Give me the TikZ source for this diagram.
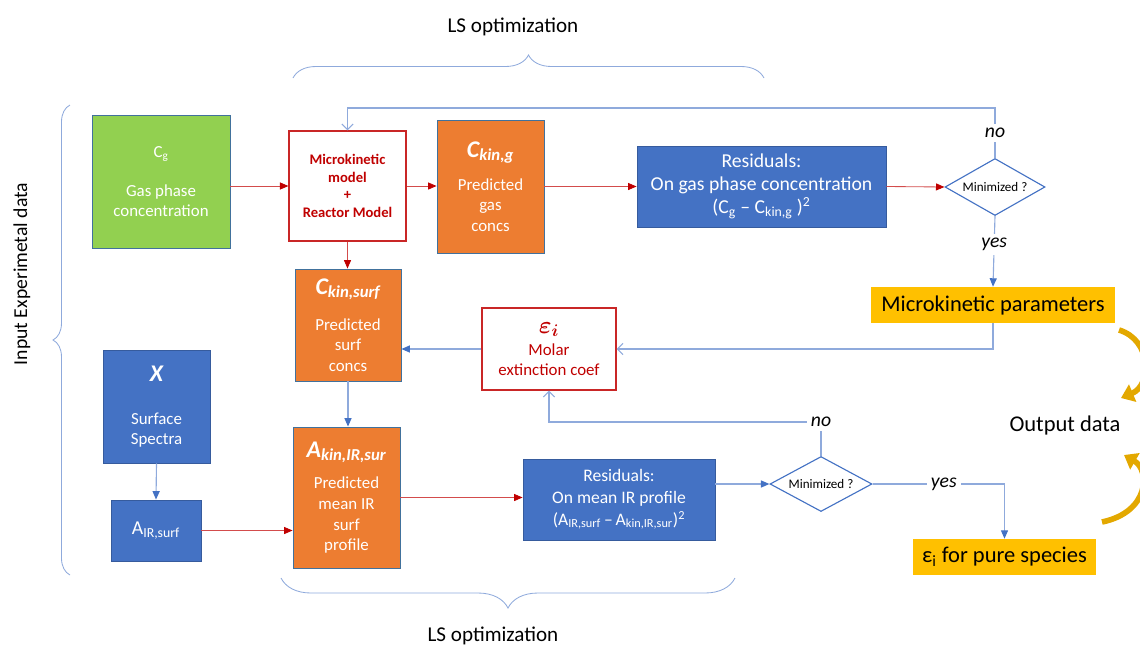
\documentclass[tikz,border=0pt]{standalone}
\usepackage{fontspec}
\setmainfont{Carlito}
\usetikzlibrary{arrows.meta,shapes.geometric,decorations.pathreplacing}
\definecolor{ogreen}{HTML}{92D050}
\definecolor{oorange}{HTML}{ED7D31}
\definecolor{oblue}{HTML}{4472C4}
\definecolor{ogold}{HTML}{FFC000}
\definecolor{ored}{HTML}{C00000}
\definecolor{lblue}{HTML}{8FAADC}
\definecolor{edge}{HTML}{41719C}
\definecolor{arcgold}{HTML}{E3A800}
\newcommand\boxhead{\fontsize{17}{20}\selectfont\bfseries\itshape}

\begin{document}
\begin{tikzpicture}[x=0.025cm,y=-0.025cm,
  every node/.style={font=\fontsize{12}{14.6}\selectfont},
  box/.style={draw=edge, line width=0.6pt, align=center, inner sep=2pt, text=white},
  greenbox/.style={box, fill=ogreen},
  orangebox/.style={box, fill=oorange},
  bluebox/.style={box, fill=oblue, draw=oblue!80!black},
  redbox/.style={draw=ored!85, line width=0.8pt, fill=white, align=center, text=ored},
  goldbox/.style={fill=ogold, inner sep=2pt, font=\fontsize{16}{19}\selectfont},
  decision/.style={diamond, draw=oblue, line width=0.8pt, fill=white, inner sep=0pt,
    aspect=1.8, font=\fontsize{9.3}{11}\selectfont},
  redline/.style={draw=ored!70, line width=0.6pt, -{Triangle[length=6pt,width=5pt,color=ored]}},
  blueline/.style={draw=lblue, line width=0.8pt, -{Triangle[length=6pt,width=5pt,color=oblue]}},
  loopline/.style={draw=lblue, line width=0.8pt, -{Straight Barb[length=4pt,width=8pt]}},
  answer/.style={fill=white, inner sep=3pt, font=\fontsize{14}{17}\selectfont\itshape},
  title/.style={font=\fontsize{15}{18}\selectfont},
  lsbrace/.style={draw=lblue, line width=0.6pt, decorate, decoration={brace, amplitude=#1}},
  goldarc/.style={draw=arcgold, line width=4pt, -{Triangle[length=9pt,width=13pt]}}]
\useasboundingbox (0,0) rectangle (1140,646);

% ==================== TOP ROW: GAS PHASE ====================
\node[greenbox, minimum width=3.45cm, minimum height=3.325cm] (gas) at (161,181.5)
  {C\textsubscript{g}\\[13pt]Gas phase\\concentration};
\node[redbox, minimum width=2.925cm, minimum height=2.75cm,
  font=\fontsize{10.4}{12.6}\selectfont\bfseries] (mkm) at (347.5,186)
  {Microkinetic\\model\\+\\Reactor Model};
\node[orangebox, minimum width=2.675cm, minimum height=3.325cm] (ckg) at (490.5,186.5)
  {{\boxhead C\textsubscript{kin,g}}\\[9pt]Predicted\\gas\\concs};
\node[bluebox, minimum width=6.225cm, minimum height=2.025cm,
  font=\fontsize{14}{16.5}\selectfont] (resg) at (761.5,186.5)
  {Residuals:\\On gas phase concentration\\(C\textsubscript{g} -- C\textsubscript{kin,g} )\textsuperscript{2}};
\node[decision, minimum width=2.5cm, minimum height=1.425cm] (ming) at (995,187) {Minimized ?};
\node[goldbox, minimum width=6.1cm, minimum height=0.9cm] (mkp) at (993,305) {Microkinetic parameters};

% ==================== MIDDLE: SURFACE ====================
\node[orangebox, minimum width=2.65cm, minimum height=2.8cm] (cks) at (348,325)
  {{\boxhead C\textsubscript{kin,surf}}\\[11pt]Predicted\\surf\\concs};
\node[redbox, minimum width=3.35cm, minimum height=2.05cm] (eps) at (549,349)
  {{\fontsize{17}{20}\selectfont\boldmath$\varepsilon_{i}$}\\[1pt]Molar\\extinction coef};

% ==================== BOTTOM ROW: IR PROFILE ====================
\node[bluebox, minimum width=2.675cm, minimum height=2.825cm] (spec) at (156.5,406.5)
  {{\boxhead X}\\[16pt]Surface\\Spectra};
\node[bluebox, minimum width=2.25cm, minimum height=1.525cm,
  font=\fontsize{14}{16.5}\selectfont] (air) at (156,530.5) {A\textsubscript{IR,surf}};
\node[orangebox, minimum width=2.675cm, minimum height=3.525cm] (aks) at (346.5,497.5)
  {{\boxhead A\textsubscript{kin,IR,sur}}\\[8pt]Predicted\\mean IR\\surf\\profile};
\node[bluebox, minimum width=4.8cm, minimum height=2.025cm,
  font=\fontsize{12.5}{15.5}\selectfont] (resir) at (619,499.5)
  {Residuals:\\On mean IR profile\\(A\textsubscript{IR,surf}\,--\,A\textsubscript{kin,IR,sur})\textsuperscript{2}};
\node[decision, minimum width=2.55cm, minimum height=1.375cm] (minir) at (821,484) {Minimized ?};
\node[goldbox, minimum width=4.575cm, minimum height=0.9cm] (epsout) at (1004.5,557)
  {ε\textsubscript{i} for pure species};

% ==================== CONNECTORS ====================
\coordinate (looptop) at (0,108);
\coordinate (nolevel) at (0,422);
\draw[redline] (gas.east |- mkm.west) -- (mkm.west);
\draw[redline] (mkm.east) -- (mkm.east -| ckg.west);
\draw[redline] (ckg.east) -- (ckg.east -| resg.west);
\draw[redline] (resg.east) -- (ming.west);
\draw[loopline] (ming.north) -- node[answer] (no1) {no} (ming.north |- looptop) -| (mkm.north);
\draw[blueline] (ming.south) -- node[answer, pos=0.4] (yes1) {yes} (mkp.north);
\draw[loopline] (mkp.south) |- (eps.east);
\draw[blueline] (eps.west) -- (eps.west -| cks.east);
\draw[redline] (mkm.south) -- (mkm.south |- cks.north);
\draw[blueline] (cks.south) -- (cks.south |- aks.north);
\draw[blueline] (spec.south) -- (air.north);
\draw[redline] (air.east) -- (air.east -| aks.west);
\draw[redline] (aks.east) -- (aks.east -| resir.west);
\draw[blueline] (resir.east |- minir.west) -- (minir.west);
\draw[loopline] (minir.north) -- (minir.north |- nolevel) node[answer] (no2) {no} -| (eps.south);
\draw[blueline] (minir.east) -| node[answer, pos=0.27] (yes2) {yes} (epsout.north);

% ==================== BRACES AND TITLES ====================
\draw[lsbrace=0.575cm] (293,78) -- (764,78);
\draw[lsbrace=0.75cm] (735,578) -- (281,578);
\draw[lsbrace=0.425cm] (70,575) -- (70,105);
\node[title] (lstop) at (513,27) {LS optimization};
\node[title] (lsbot) at (493,636) {LS optimization};
\node[title, rotate=90, font=\fontsize{14}{17}\selectfont] (input) at (22,274) {Input Experimetal data};
\node[title, font=\fontsize{16}{19}\selectfont] (output) at (1065,425) {Output data};

% Output arrows
\draw[goldarc] (1119,330) .. controls (1152,340) and (1152,385) .. (1121,398);
\draw[goldarc] (1102,522) .. controls (1150,512) and (1150,470) .. (1124,455);
\end{tikzpicture}
\end{document}
